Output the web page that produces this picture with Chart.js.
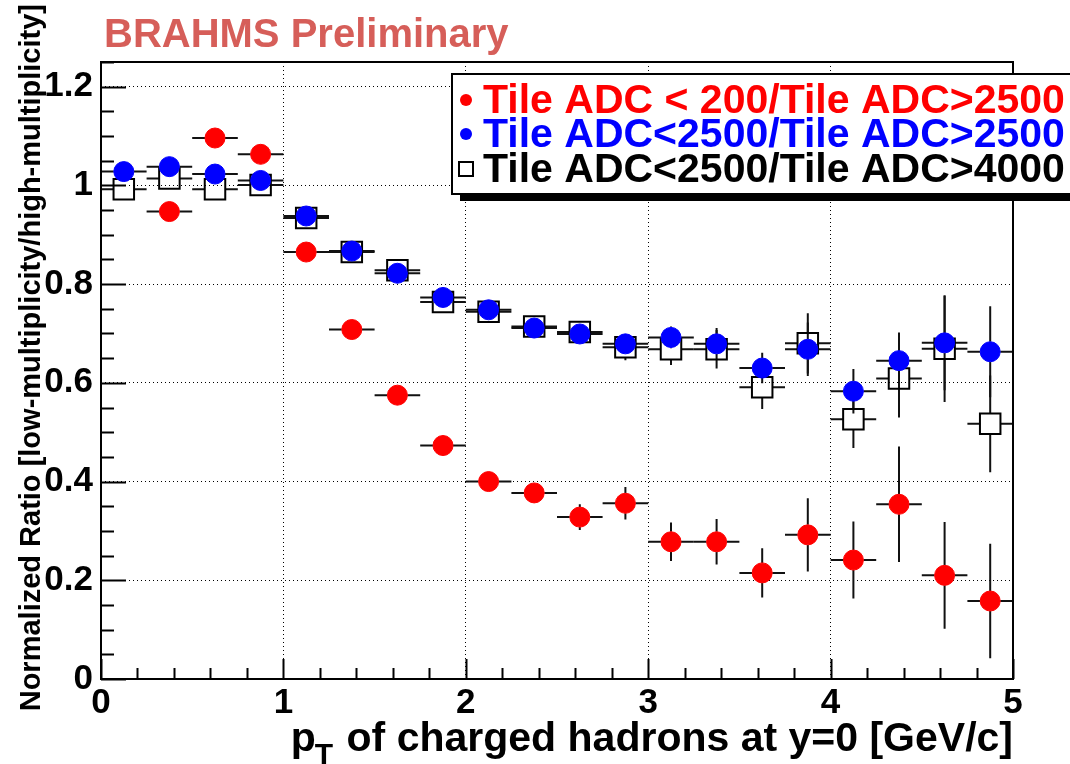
<!DOCTYPE html>
<html>
<head>
<meta charset="utf-8">
<script src="https://cdn.jsdelivr.net/npm/chart.js@4.4.1/dist/chart.umd.min.js"></script>
<style>
  html, body { margin: 0; padding: 0; background: #fff; }
  #wrap { width: 1070px; height: 764px; }
</style>
</head>
<body>
<div id="wrap"><canvas id="ratioChart" width="1070" height="764"></canvas></div>
<script>
// pT bin centres and half widths [GeV/c]
const ptBins = [0.125, 0.375, 0.625, 0.875, 1.125, 1.375, 1.625, 1.875, 2.125, 2.375,
                2.625, 2.875, 3.125, 3.375, 3.625, 3.875, 4.125, 4.375, 4.625, 4.875];
const ptHalfWidth = [0.125, 0.125, 0.125, 0.125, 0.125, 0.125, 0.125, 0.125, 0.125, 0.125,
                     0.125, 0.125, 0.125, 0.125, 0.125, 0.125, 0.125, 0.125, 0.125, 0.125];

// Tile ADC < 200 / Tile ADC > 2500
const ratio200 = [null, 0.947, 1.096, 1.063, 0.865, 0.708, 0.575, 0.473, 0.400, 0.377,
                  0.328, 0.356, 0.278, 0.278, 0.215, 0.292, 0.241, 0.354, 0.210, 0.158];
const ratio200Err = [0, 0.006, 0.006, 0.006, 0.007, 0.008, 0.009, 0.010, 0.012, 0.020,
                     0.026, 0.033, 0.039, 0.046, 0.050, 0.074, 0.078, 0.117, 0.108, 0.116];

// Tile ADC < 2500 / Tile ADC > 2500
const ratio2500 = [1.028, 1.038, 1.023, 1.010, 0.938, 0.867, 0.822, 0.773, 0.748, 0.711,
                   0.699, 0.679, 0.692, 0.679, 0.630, 0.668, 0.583, 0.645, 0.681, 0.663];
const ratio2500Err = [0.006, 0.006, 0.006, 0.006, 0.007, 0.008, 0.009, 0.010, 0.011, 0.013,
                      0.016, 0.020, 0.022, 0.032, 0.031, 0.054, 0.045, 0.057, 0.096, 0.092];

// Tile ADC < 2500 / Tile ADC > 4000
const ratio4000 = [0.992, 1.014, 0.992, 1.001, 0.934, 0.865, 0.828, 0.764, 0.744, 0.714,
                   0.703, 0.672, 0.668, 0.668, 0.591, 0.680, 0.526, 0.609, 0.669, 0.517];
const ratio4000Err = [0.006, 0.007, 0.007, 0.007, 0.008, 0.009, 0.010, 0.012, 0.013, 0.015,
                      0.019, 0.026, 0.032, 0.039, 0.044, 0.061, 0.058, 0.079, 0.108, 0.098];

const seriesLabels = ['Tile ADC < 200/Tile ADC>2500', 'Tile ADC<2500/Tile ADC>2500', 'Tile ADC<2500/Tile ADC>4000'];

const xTicks = [0, 1, 2, 3, 4, 5];
const xTickLabels = ['0', '1', '2', '3', '4', '5'];
const yTicks = [0, 0.2, 0.4, 0.6, 0.8, 1, 1.2];
const yTickLabels = ['0', '0.2', '0.4', '0.6', '0.8', '1', '1.2'];

const FONT = "'Liberation Sans', Arial, Helvetica, sans-serif";

function points(vals, errs) {
  return ptBins.map((x, i) => ({ x: x, y: vals[i], ex: ptHalfWidth[i], ey: errs[i] }));
}

// ROOT style error bars: full bin width horizontally, gap where the marker sits
function drawErrorBars(chart) {
  const ctx = chart.ctx, xs = chart.scales.x, ys = chart.scales.y;
  ctx.save();
  ctx.strokeStyle = '#111';
  ctx.lineWidth = 2;
  chart.data.datasets.forEach(ds => {
    const gap = ds.markerHalf;
    ds.data.forEach(p => {
      if (p.y == null) return;
      const px = xs.getPixelForValue(p.x), py = ys.getPixelForValue(p.y);
      const x0 = xs.getPixelForValue(p.x - p.ex), x1 = xs.getPixelForValue(p.x + p.ex);
      const yLo = ys.getPixelForValue(p.y - p.ey), yHi = ys.getPixelForValue(p.y + p.ey);
      ctx.beginPath();
      ctx.moveTo(x0, py); ctx.lineTo(px - gap, py);
      ctx.moveTo(px + gap, py); ctx.lineTo(x1, py);
      if (yLo - py > gap) {
        ctx.moveTo(px, py + gap); ctx.lineTo(px, yLo);
        ctx.moveTo(px, py - gap); ctx.lineTo(px, yHi);
      }
      ctx.stroke();
    });
  });
  ctx.restore();
}

function drawFrameAndTicks(chart) {
  const ctx = chart.ctx, a = chart.chartArea, xs = chart.scales.x, ys = chart.scales.y;
  ctx.save();
  ctx.strokeStyle = '#000';
  ctx.lineWidth = 2;
  ctx.beginPath();
  // y ticks, inside the frame: major every 0.2, minor every 0.05
  for (let k = 0; k <= 25; k++) {
    const v = k * 0.05;
    const py = Math.round(ys.getPixelForValue(v)) + 0.5;
    const len = (k % 4 === 0) ? 25 : 13;
    ctx.moveTo(a.left, py); ctx.lineTo(a.left + len, py);
  }
  // x ticks: major every 1, minor every 0.2
  for (let k = 0; k <= 25; k++) {
    const v = k * 0.2;
    const px = Math.round(xs.getPixelForValue(v)) + 0.5;
    const len = (k % 5 === 0) ? 20 : 11;
    ctx.moveTo(px, a.bottom); ctx.lineTo(px, a.bottom - len);
  }
  ctx.stroke();
  ctx.strokeRect(a.left, a.top, a.right - a.left, a.bottom - a.top);
  ctx.restore();
}

function drawLegend(chart) {
  const ctx = chart.ctx;
  const box = { left: 452, top: 74, right: 1076, bottom: 194 };
  ctx.save();
  // shadow then box
  ctx.fillStyle = '#000';
  ctx.fillRect(box.left + 8, box.top + 7, box.right - box.left, box.bottom - box.top);
  ctx.fillStyle = '#fff';
  ctx.fillRect(box.left, box.top, box.right - box.left, box.bottom - box.top);
  ctx.strokeStyle = '#000';
  ctx.lineWidth = 2;
  ctx.strokeRect(box.left, box.top, box.right - box.left, box.bottom - box.top);

  const rows = [100, 134, 169];
  ctx.font = 'bold 41px ' + FONT;
  ctx.textBaseline = 'middle';
  ctx.textAlign = 'left';
  chart.data.datasets.forEach((ds, i) => {
    const cy = rows[i];
    if (ds.pointStyle === 'circle') {
      ctx.fillStyle = ds.pointBackgroundColor;
      ctx.beginPath();
      ctx.arc(466, cy, 6, 0, Math.PI * 2);
      ctx.fill();
    } else {
      ctx.strokeStyle = '#000';
      ctx.lineWidth = 2;
      ctx.strokeRect(459, cy - 7, 14, 14);
    }
    ctx.fillStyle = ds.textColor;
    ctx.fillText(ds.label, 483, cy + 2);
  });
  ctx.restore();
}

function drawTitles(chart) {
  const ctx = chart.ctx, a = chart.chartArea;
  ctx.save();
  ctx.fillStyle = '#d65e59';
  ctx.font = 'bold 40px ' + FONT;
  ctx.textBaseline = 'alphabetic';
  ctx.textAlign = 'left';
  ctx.fillText('BRAHMS Preliminary', 104, 47);

  // x axis title with subscript T, right aligned to the frame
  ctx.fillStyle = '#000';
  ctx.font = 'bold 41px ' + FONT;
  ctx.textAlign = 'right';
  const rest = ' of charged hadrons at y=0 [GeV/c]';
  ctx.fillText(rest, a.right, 751);
  const restStart = a.right - ctx.measureText(rest).width;
  ctx.font = 'bold 30px ' + FONT;
  const tW = ctx.measureText('T').width;
  ctx.fillText('T', restStart - 2, 764);
  ctx.font = 'bold 41px ' + FONT;
  ctx.fillText('p', restStart - tW - 1, 751);

  // y axis title, rotated, ending near the top of the page
  ctx.font = 'bold 29px ' + FONT;
  ctx.translate(40, 4);
  ctx.rotate(-Math.PI / 2);
  ctx.textAlign = 'right';
  ctx.fillText('Normalized Ratio [low-multiplicity/high-multiplicity]', 0, 0);
  ctx.restore();
}

const rootStyle = {
  id: 'rootStyle',
  beforeDatasetsDraw(chart) { drawErrorBars(chart); },
  afterDraw(chart) {
    drawFrameAndTicks(chart);
    drawLegend(chart);
    drawTitles(chart);
  }
};

const ctx = document.getElementById('ratioChart').getContext('2d');
new Chart(ctx, {
  type: 'scatter',
  data: {
    datasets: [{
      label: seriesLabels[0],
      data: points(ratio200, ratio200Err),
      pointStyle: 'circle',
      pointRadius: 10,
      pointBackgroundColor: '#ff0000',
      pointBorderColor: '#ff0000',
      pointBorderWidth: 1,
      textColor: '#ff0000',
      markerHalf: 10
    }, {
      label: seriesLabels[1],
      data: points(ratio2500, ratio2500Err),
      pointStyle: 'circle',
      pointRadius: 10,
      pointBackgroundColor: '#0000ff',
      pointBorderColor: '#0000ff',
      pointBorderWidth: 1,
      textColor: '#0000ff',
      markerHalf: 10
    }, {
      label: seriesLabels[2],
      data: points(ratio4000, ratio4000Err),
      pointStyle: 'rect',
      pointRadius: 14.5,
      pointBackgroundColor: 'rgba(0,0,0,0)',
      pointBorderColor: '#000',
      pointBorderWidth: 2,
      textColor: '#000',
      markerHalf: 10
    }]
  },
  options: {
    responsive: false,
    animation: false,
    showLine: false,
    layout: { padding: { top: 62, right: 57, left: 0, bottom: 0 } },
    plugins: { legend: { display: false }, tooltip: { enabled: false } },
    scales: {
      x: {
        type: 'linear', min: 0, max: 5,
        afterFit: s => { s.height = 85; },
        afterBuildTicks: s => { s.ticks = xTicks.map(v => ({ value: v })); },
        ticks: {
          callback: (v, i) => xTickLabels[i],
          font: { family: FONT, size: 35, weight: 'bold' },
          color: '#000', padding: 3, maxRotation: 0, autoSkip: false
        },
        grid: { color: '#000', lineWidth: 1, drawTicks: false },
        border: { display: false, dash: [1, 3] }
      },
      y: {
        type: 'linear', min: 0, max: 1.25,
        afterFit: s => { s.width = 101; },
        afterBuildTicks: s => { s.ticks = yTicks.map(v => ({ value: v })); },
        ticks: {
          callback: (v, i) => yTickLabels[i],
          font: { family: FONT, size: 35, weight: 'bold' },
          color: '#000', padding: 8, autoSkip: false
        },
        grid: { color: '#000', lineWidth: 1, drawTicks: false },
        border: { display: false, dash: [1, 3] }
      }
    }
  },
  plugins: [rootStyle]
});
</script>
</body>
</html>
